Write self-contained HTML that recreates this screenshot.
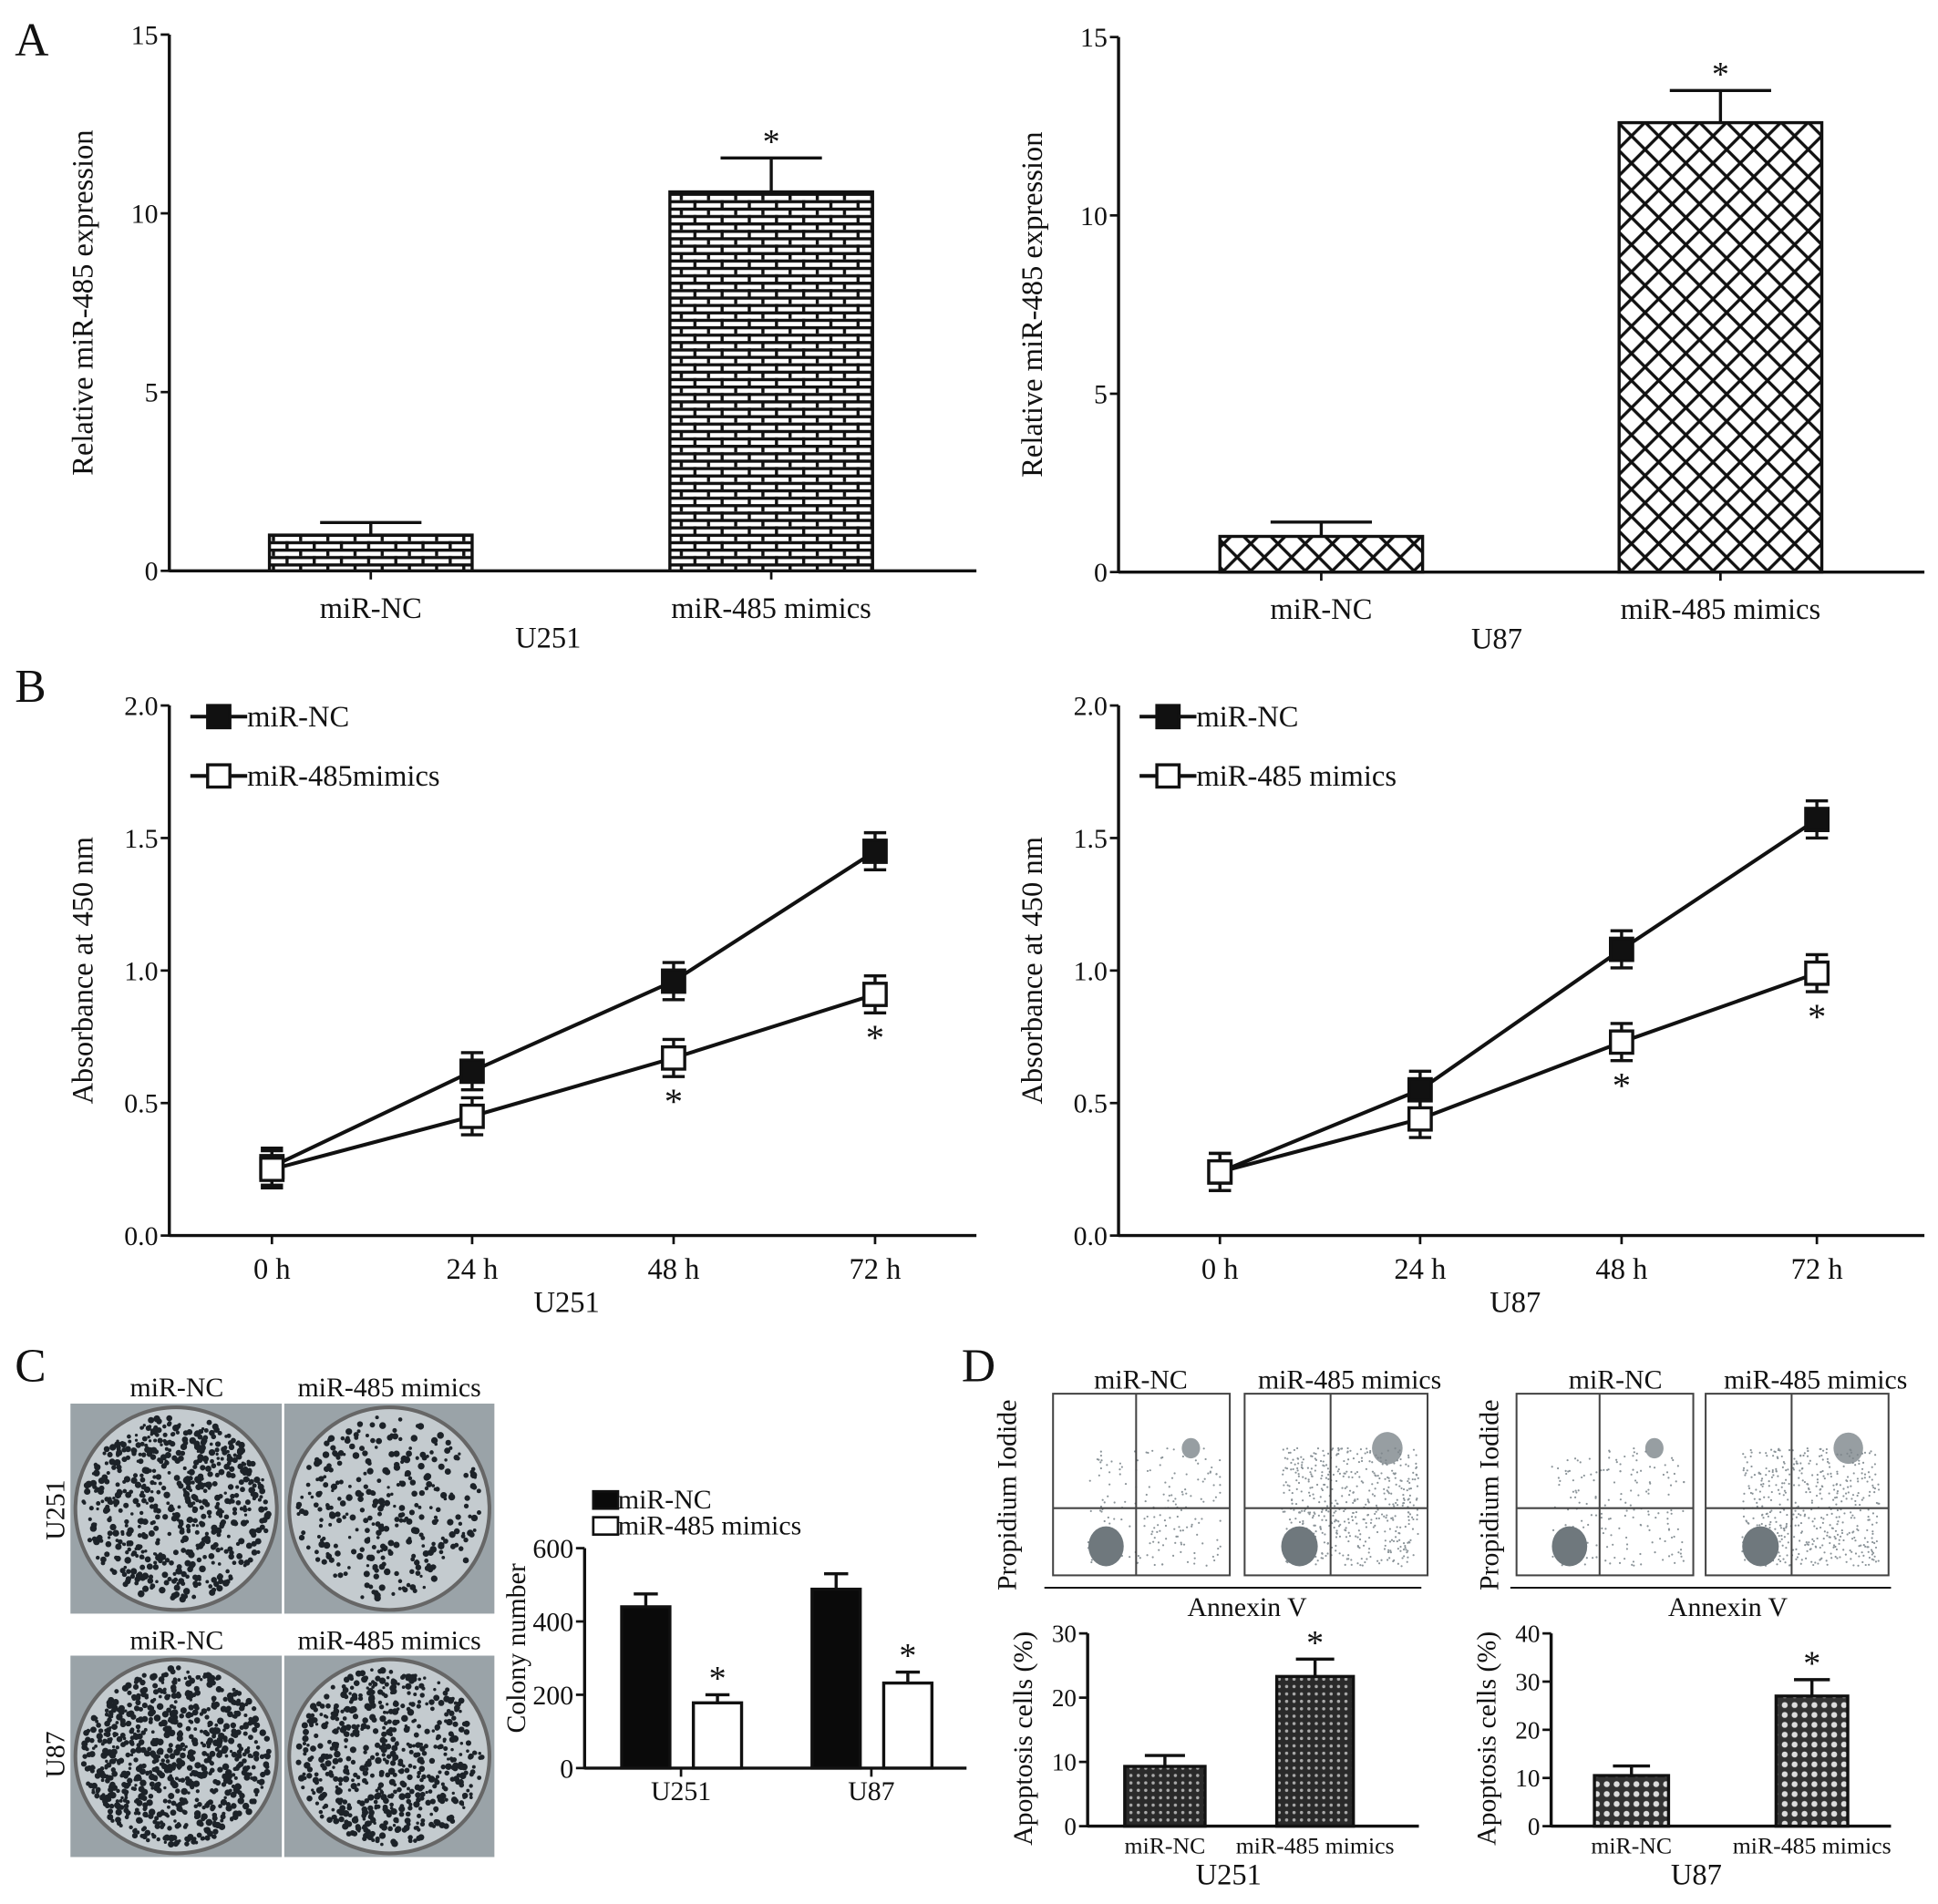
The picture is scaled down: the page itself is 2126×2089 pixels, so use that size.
<!DOCTYPE html>
<html><head><meta charset="utf-8"><style>
html,body{margin:0;padding:0;background:#fff;}
svg{display:block;font-family:"Liberation Serif",serif;}
</style></head><body>
<svg id="fig" width="2126" height="2089" viewBox="0 0 1568 1541" preserveAspectRatio="none">
<defs>
<pattern id="brick" width="22" height="12" patternUnits="userSpaceOnUse"><rect width="22" height="12" fill="#fff"/><rect width="22" height="2.5" fill="#111"/><rect y="6" width="22" height="2.5" fill="#111"/><rect x="0" y="0" width="2.5" height="6" fill="#111"/><rect x="11" y="6" width="2.5" height="6" fill="#111"/></pattern>
<pattern id="cross" width="22" height="22" patternUnits="userSpaceOnUse"><rect width="22" height="22" fill="#fff"/><path d="M0 0L22 22M22 0L0 22M-11 11L11 33M11 -11L33 11M-11 11L11 -11M11 33L33 11" stroke="#111" stroke-width="2.5"/></pattern>
<pattern id="dots" width="6" height="6" patternUnits="userSpaceOnUse"><rect width="6" height="6" fill="#2a2a2a"/><circle cx="3" cy="3" r="1.3" fill="#aaa"/></pattern>
<pattern id="dots2" width="8" height="8" patternUnits="userSpaceOnUse"><rect width="8" height="8" fill="#333"/><circle cx="4" cy="4" r="2.4" fill="#ddd"/></pattern>
</defs>
<g id="root"></g>
</svg>
<script>
// ===== data =====
const aCats = ['miR-NC','miR-485 mimics'];
const aU251Vals = [1.0, 10.6];
const aU251Err = [0.35, 0.95];
const aU87Vals = [1.0, 12.6];
const aU87Err = [0.4, 0.9];
const aTicks = [0,5,10,15];
const bCats = ['0 h','24 h','48 h','72 h'];
const bU251NC = [0.26,0.62,0.96,1.45];
const bU251Mim = [0.25,0.45,0.67,0.91];
const bU87NC = [0.24,0.55,1.08,1.57];
const bU87Mim = [0.24,0.44,0.73,0.99];
const bErr = 0.07;
const bTicks = [0.0,0.5,1.0,1.5,2.0];
const cGroups = ['U251','U87'];
const cNC = [440,488];
const cNCErr = [35,42];
const cMim = [178,232];
const cMimErr = [22,30];
const cTicks = [0,200,400,600];
const dU251Vals = [9.3,23.3];
const dU251Err = [1.7,2.7];
const dU251Ticks = [0,10,20,30];
const dU87Vals = [10.5,27];
const dU87Err = [2.0,3.4];
const dU87Ticks = [0,10,20,30,40];

const NS='http://www.w3.org/2000/svg';
const root=document.getElementById('root');
function el(tag,attrs,parent,text){const e=document.createElementNS(NS,tag);for(const k in attrs)e.setAttribute(k,attrs[k]);if(text!==undefined)e.textContent=text;(parent||root).appendChild(e);return e;}
function txt(x,y,s,size,name,anchor,rot){const t=el('text',{x:x,y:y,'font-size':size,'text-anchor':anchor||'middle',fill:'#111'},root,s);if(rot)t.setAttribute('transform','rotate(-90 '+x+' '+y+')');

return t;}
function line(x1,y1,x2,y2,w,name){const l=el('line',{x1:x1,y1:y1,x2:x2,y2:y2,stroke:'#111','stroke-width':w||2.5});

return l;}
function yAxis(x0,yTop,yBot,x1,ticks,max,fs,fmt,name){
  const sy=v=>yBot-(v/max)*(yBot-yTop);
  line(x0,yTop,x0,yBot+1,2.5,name+'-y-axis');
  line(x0,yBot,x1,yBot,2.5,name+'-x-axis');
  ticks.forEach(t=>{line(x0-7,sy(t),x0,sy(t),2,name+'-y-tick');txt(x0-9,sy(t)+fs*0.35,fmt?fmt(t):String(t),fs,name+'-y-tick-label','end');});
  return sy;
}
function bar(x,w,v,err,sy,fill,name,star){
  const r=el('rect',{x:x,y:sy(v),width:w,height:sy(0)-sy(v),fill:fill,stroke:'#111','stroke-width':2.5});
  
  
  const cx=x+w/2;line(cx,sy(v),cx,sy(v+err),2.5,name+'-error-bar');line(cx-w*0.25,sy(v+err),cx+w*0.25,sy(v+err),2.5,name+'-error-cap');
  if(star)txt(cx,sy(v+err)-4,'*',28,name+'-significance');
}
txt(12,45,'A',38,'panel-label-a','start');txt(12,568,'B',38,'panel-label-b','start');
txt(12,1118,'C',38,'panel-label-c','start');txt(778,1118,'D',38,'panel-label-d','start');

// ===== A =====
function panelA(x0,x1,yTop,yBot,vals,errs,fill,bx,cell,name){
  const sy=yAxis(x0,yTop,yBot,x1,aTicks,15,22,null,name);
  vals.forEach((v,i)=>{bar(bx[i],164,v,errs[i],sy,fill,name+'-bar-'+i,i==1);line(bx[i]+82,yBot,bx[i]+82,yBot+7,2,name+'-x-tick');txt(bx[i]+82,yBot+38,aCats[i],24,name+'-x-label');});
  txt((x0+x1)/2-20,yBot+62,cell,24,name+'-cell-label');
  txt(x0-62,(yTop+yBot)/2,'Relative miR-485 expression',24,name+'-y-title','middle',true);
}
panelA(137,790,28,462,aU251Vals,aU251Err,'url(#brick)',[218,542],'U251','a-u251');
panelA(905,1557,30,463,aU87Vals,aU87Err,'url(#cross)',[987,1310],'U87','a-u87');

// ===== B =====
function panelB(x0,x1,xs,nc,mim,cell,legend2,name){
  const yTop=571,yBot=1000;
  const sy=yAxis(x0,yTop,yBot,x1,bTicks,2,22,t=>t.toFixed(1),name);
  bCats.forEach((c,i)=>{line(xs[i],yBot,xs[i],yBot+7,2,name+'-x-tick');txt(xs[i],yBot+35,c,24,name+'-x-label');});
  txt((x0+x1)/2-5,yBot+62,cell,24,name+'-cell-label');
  txt(x0-62,(yTop+yBot)/2,'Absorbance at 450 nm',24,name+'-y-title','middle',true);
  [[nc,true],[mim,false]].forEach(([s,filled],k)=>{
    const p=el('polyline',{points:s.map((v,i)=>xs[i]+','+sy(v)).join(' '),fill:'none',stroke:'#111','stroke-width':3});
    
    
    s.forEach((v,i)=>{
      line(xs[i],sy(v-bErr),xs[i],sy(v+bErr),2.5,name+'-error-bar');
      line(xs[i]-9,sy(v+bErr),xs[i]+9,sy(v+bErr),2.5,name+'-error-cap');
      line(xs[i]-9,sy(v-bErr),xs[i]+9,sy(v-bErr),2.5,name+'-error-cap');
      const r=el('rect',{x:xs[i]-9,y:sy(v)-9,width:18,height:18,fill:filled?'#111':'#fff',stroke:'#111','stroke-width':2.5});
      
      
      if(!filled&&i>=2)txt(xs[i],sy(v-bErr)+30,'*',30,name+'-significance');
    });
  });
  const lx=x0+17;
  [[580,true,'miR-NC'],[628,false,legend2]].forEach(([y,f,l])=>{
    line(lx,y,lx+46,y,3,name+'-legend-line');
    const r=el('rect',{x:lx+14,y:y-9,width:18,height:18,fill:f?'#111':'#fff',stroke:'#111','stroke-width':2.5});
    
    
    txt(lx+46,y+8,l,24,name+'-legend-label','start');
  });
}
panelB(137,790,[220,382,545,708],bU251NC,bU251Mim,'U251','miR-485mimics','b-u251');
panelB(905,1557,[987,1149,1312,1470],bU87NC,bU87Mim,'U87','miR-485 mimics','b-u87');

// ===== C photos =====
let seed=7;function rnd(){seed=(seed*16807)%2147483647;return seed/2147483647;}
function plate(x,y,w,h,n,name){
  const g=el('g',{});
  
  
  el('rect',{x:x,y:y,width:w,height:h,fill:'#9aa3a8'},g);
  const cx=x+w/2,cy=y+h/2,r=Math.min(w,h)/2-3;
  el('ellipse',{cx:cx,cy:cy,rx:w/2-4,ry:r,fill:'#c4cbcf',stroke:'#666','stroke-width':3},g);
  for(let i=0;i<n;i++){const a=rnd()*6.283,d=Math.sqrt(rnd())*0.95;
    el('circle',{cx:cx+Math.cos(a)*d*(w/2-6),cy:cy+Math.sin(a)*d*(r-3),r:1.2+rnd()*1.6,fill:'#1c2228'},g);}
}
plate(57,1136,171,170,650,'plate-u251-nc');plate(230,1136,170,170,330,'plate-u251-mimics');
plate(57,1340,171,163,800,'plate-u87-nc');plate(230,1340,170,163,620,'plate-u87-mimics');
txt(143,1130,'miR-NC',22,'plate-col-label');txt(315,1130,'miR-485 mimics',22,'plate-col-label');
txt(143,1335,'miR-NC',22,'plate-col-label');txt(315,1335,'miR-485 mimics',22,'plate-col-label');
txt(52,1222,'U251',22,'plate-row-label','middle',true);txt(52,1420,'U87',22,'plate-row-label','middle',true);

// ===== C bar chart =====
(function(){
  const x0=473,yTop=1253,yBot=1431,name='c-colony';
  const sy=yAxis(x0,yTop,yBot,782,cTicks,600,22,null,name);
  const gx=[503,657];
  cGroups.forEach((g,i)=>{
    bar(gx[i],39,cNC[i],cNCErr[i],sy,'#0a0a0a',name+'-nc-bar-'+i,false);
    bar(gx[i]+58,39,cMim[i],cMimErr[i],sy,'#fff',name+'-mimics-bar-'+i,true);
    line(gx[i]+48,yBot,gx[i]+48,yBot+7,2,name+'-x-tick');
    txt(gx[i]+48,yBot+26,g,22,name+'-x-label');
  });
  txt(x0-48,(yTop+yBot)/2-8,'Colony number',22,name+'-y-title','middle',true);
  [[1215,'#0a0a0a','miR-NC'],[1236,'#fff','miR-485 mimics']].forEach(([y,f,l])=>{
    const r=el('rect',{x:480,y:y-8,width:20,height:14,fill:f,stroke:'#111','stroke-width':2});
    
    
    txt(500,y+6,l,22,name+'-legend-label','start');
  });
})();

// ===== D flow plots =====
function flow(x,y,w,h,ur,name){
  const g=el('g',{});
  
  
  el('rect',{x:x,y:y,width:w,height:h,fill:'#fff',stroke:'#444','stroke-width':1.5},g);
  for(let i=0;i<ur*3;i++){el('circle',{cx:x+w*(0.2+rnd()*0.75),cy:y+h*(0.3+rnd()*0.65),r:0.8,fill:'#8a9398'},g);}
  el('ellipse',{cx:x+w*0.3,cy:y+h*0.84,rx:w*0.1,ry:h*0.11,fill:'#6f787d'},g);
  el('ellipse',{cx:x+w*0.78,cy:y+h*0.3,rx:w*0.035+ur*0.04,ry:h*0.04+ur*0.04,fill:'#7d868b',opacity:0.8},g);
  el('line',{x1:x+w*0.47,y1:y,x2:x+w*0.47,y2:y+h,stroke:'#444','stroke-width':1.5},g);
  el('line',{x1:x,y1:y+h*0.63,x2:x+w,y2:y+h*0.63,stroke:'#444','stroke-width':1.5},g);
}
flow(852,1128,143,147,60,'flow-u251-nc');flow(1007,1128,148,147,180,'flow-u251-mimics');
flow(1227,1128,143,147,60,'flow-u87-nc');flow(1380,1128,148,147,170,'flow-u87-mimics');
txt(923,1124,'miR-NC',22,'flow-label');txt(1092,1124,'miR-485 mimics',22,'flow-label');
txt(1307,1124,'miR-NC',22,'flow-label');txt(1469,1124,'miR-485 mimics',22,'flow-label');
txt(1009,1308,'Annexin V',22,'flow-x-title');txt(1398,1308,'Annexin V',22,'flow-x-title');
txt(822,1210,'Propidium Iodide',22,'flow-y-title','middle',true);txt(1212,1210,'Propidium Iodide',22,'flow-y-title','middle',true);
line(845,1285,1150,1285,1.5,'flow-axis');line(1222,1285,1530,1285,1.5,'flow-axis');

function panelD(x0,x1,vals,errs,ticks,max,bx,fill,cell,name){
  const yTop=1322,yBot=1478;
  const sy=yAxis(x0,yTop,yBot,x1,ticks,max,20,null,name);
  const labs=['miR-NC','miR-485 mimics'];
  vals.forEach((v,i)=>{bar(bx[i][0],bx[i][1],v,errs[i],sy,fill,name+'-bar-'+i,i==1);txt(bx[i][0]+bx[i][1]/2,yBot+22,labs[i],19,name+'-x-label');});
  txt((x0+x1)/2-20,yBot+47,cell,24,name+'-cell-label');
  txt(x0-45,yTop+85,'Apoptosis cells (%)',22,name+'-y-title','middle',true);
}
panelD(880,1148,dU251Vals,dU251Err,dU251Ticks,30,[[910,65],[1033,62]],'url(#dots)','U251','d-u251');
panelD(1255,1530,dU87Vals,dU87Err,dU87Ticks,40,[[1290,60],[1437,58]],'url(#dots2)','U87','d-u87');
</script>
</body></html>
